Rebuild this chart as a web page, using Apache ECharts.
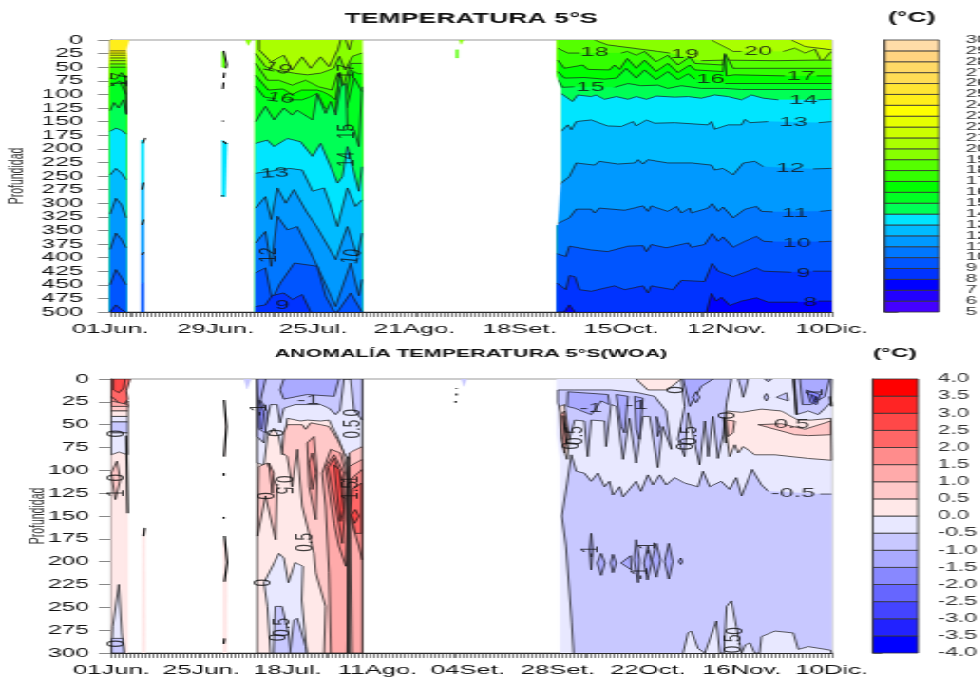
<!DOCTYPE html>
<html><head><meta charset="utf-8">
<style>html,body{margin:0;padding:0;background:#fff;overflow:hidden}
#stage{width:980px;height:681px;overflow:hidden;filter:blur(0.35px)}
#chart{height:681px;transform-origin:0 0}</style>
<script src="https://cdn.jsdelivr.net/npm/echarts@6/dist/echarts.min.js"></script></head>
<body><div id="stage"><div id="chart"></div></div>
<script>
// ---------- scales & labels ----------
const tempDateDays=[0,28,54,81,109,136,164,192];
const tempDateText=['01Jun.','29Jun.','25Jul.','21Ago.','18Set.','15Oct.','12Nov.','10Dic.'];
const anomDateDays=[0,24,47,71,95,119,143,168,192];
const anomDateText=['01Jun.','25Jun.','18Jul.','11Ago.','04Set.','28Set.','22Oct.','16Nov.','10Dic.'];
const tempLevels=[5,6,7,8,9,10,11,12,13,14,15,16,17,18,19,20,21,22,23,24,25,26,27,28,29];
const tempColors=['#4400FF','#2200FF','#0000FF','#0033FF','#0055FF','#0077FF','#0099FF','#00BBFF','#00E5FF','#00FF55','#00FF22','#00FF00','#33FF00','#55FF00','#88FF00','#AAFF00','#CCFF00','#E6FF00','#FFFF00','#FFEE1A','#FFE533','#FFDD55','#FFD966','#FFD480','#FFDCA8'];
const anomLevels=[-4,-3.5,-3,-2.5,-2,-1.5,-1,-0.5,0,0.5,1,1.5,2,2.5,3,3.5];
const anomColors=['#0000FF','#2222FF','#4444FF','#6666FF','#8888FF','#AAAAFF','#C8C8FF','#E8E8FF','#FFE8E8','#FFC8C8','#FFAAAA','#FF8C8C','#FF6666','#FF4848','#FF2424','#FF0000'];

// ---------- temperature isotherms: [day, depth] (null = break for a label) ----------
const isoA=[[24,[[0,20],[4.2,20]]],[23,[[0,24],[4.2,24]]],[22,[[0,28],[4.2,28]]],[21,[[0,33],[4.2,33]]],[20,[[0,38],[4.2,38]]],[19,[[0,44],[4.2,44]]],[18,[[0,50],[4.2,50]]],
[17,[[0,70],[1.5,72],[3,60],[4.2,70]]],[16,[[0,85],[1.2,80],[2.5,75],[4.2,100]]],[15,[[0,130],[1,115],[2.2,125],[3.5,110],[4.2,135]]],
[14,[[0,168],[1.5,162],[3,166],[4.2,173]]],[13,[[0,248],[1.5,236],[3,245],[4.2,257]]],[12,[[0,320],[1.5,291],[3,303],[4.2,327]]],[11,[[0,385],[1.5,355],[3,367],[4.2,382]]],[10,[[0,450],[1.5,422],[3,437],[4.2,450]]],[9,[[0,500],[1.5,487],[3,496],[4.2,500]]]];
const isoB20=[[38.7,0],null,[39.6,0],[39.6,18],[42.7,40],[46.2,28],[48.4,55],[51.1,31],[53.3,52],[56,31],[58.2,49],[60.6,18],[61.3,0],null,[62.7,0],[63.6,18],[64.4,0],null,[67,0]];
const isoB19=[[38.7,25],[41.3,49],[44,55],[48.9,61],[52.4,64],[56,61],[59.5,52],[61,30],[62.5,55],[64.5,30],[67,24]];
const isoB18=[[38.7,43],[41.8,74],[44.9,74],[48.4,83],[52,74],[55.5,86],[59,92],[60.6,61],[62,85],[64,43],[67,43]];
const isoB17=[[38.7,65],[42,92],[46,90],[48.4,100],[51,92],[55.1,92],[56.5,95],[58,100],[60,110],[61.2,60],[62.5,110],[64,55],[66,62],[67,62]];
const isoB16=[[38.7,85],[41,105],[44,108],null,[47,110],[51.1,110],[53,105],[55.1,98],[57,125],[60,132],[61,60],[62.8,125],[65,70],[67,95]];
const isoB15=[[38.7,150],[41.3,122],[43.6,147],[46.2,125],[48.4,138],[49.8,129],[53.8,147],[55.1,100],[57.3,135],[58.7,113],[60,138],[61.3,86],[62.7,80],[63.1,165],[64.9,165],[66.2,196],[67,86]];
const isoB14=[[38.7,190],[41.8,184],[43.6,196],[47.1,181],[50.7,187],[53.8,214],[56,190],[60.5,263],[61.8,251],[63.1,196],[64.5,233],[66.2,278],[67,233]];
const isoB13=[[38.7,245],[41.8,242],[47.6,236],[51.1,239],[53.8,278],[56.9,272],[60.5,343],[63.1,272],[65.3,306],[67,294]];
const isoB12=[[38.7,309],[41.3,288],[42.8,330],[44.5,272],[46.7,300],[48.9,275],[52.4,318],[55.1,345],[60,404],[63.1,343],[65.8,398],[67,355]];
const isoB11=[[38.7,373],[41.3,352],[42.8,416],[44.5,324],[47.1,349],[49.8,343],[55.1,416],[58.7,471],[60,490],[64,410],[66.2,470],[67,440]];
const isoB10=[[38.7,428],[41.3,419],[43,477],[45.3,447],[49,410],[55.1,416],[57.3,471],[59.5,499],[60.5,500],[64,465],[67,500]];
const isoB9=[[38.7,490],[41.3,487],[43,470],[46.2,465],[48.5,477],[51.1,468],[53.3,500],null,[67,500]];
const isoC21=[[119,0],null,[181.3,0],[184.9,12],[188.5,15],[192,18]];
const isoC20=[[119,0],null,[160,0],[165.8,21],[168,21],null,[179.1,21],[182.2,15],[184.9,24],[187.6,17],[189.3,40],[192,21]];
const isoC19=[[119,0],null,[128.9,0],[132.4,9],[145.8,21],[148.9,24],null,[157.3,38],[163.6,37],[176.9,38],[187.6,37],[192,37]];
const isoC18=[[119.1,15],[121.8,24],[124.9,24],null,[136,24],[137.6,21],[140,28],[142.2,21],[145.3,40],[148.4,28],[151.1,46],[154.2,31],[155.6,43],[163.1,46],[163.6,25],[165.8,52],[192,52]];
const isoC17=[[119.1,37],[120.9,52],[125.8,46],[127.1,54],[132.9,55],[134.2,46],[135.6,54],[137.6,34],[140,52],[142.2,37],[145.3,58],[148.4,43],[151.1,60],[154.2,46],[155.6,55],[163.1,58],[163.6,28],[164,66],[166.2,64],[179.6,66],null,[188,66],[192,66]];
const isoC16=[[119.1,58],[120.9,70],[126.2,69],[131.6,72],[134.7,70],[137.3,52],[140,70],[142.2,55],[145.3,73],[148.4,58],[151.1,73],[153.8,62],[155.6,72],null,[163.6,80],[192,80]];
const isoC15=[[119.1,73],[120.4,87],[123.5,86],null,[134.2,87],[137.8,80],[141.3,84],[145.8,83],[148.4,89],[152,84],[157.3,89],[163.6,89],[168,91],[192,91]];
const isoC14=[[120,98],[123,113],[124.4,101],[128,104],[129.3,101],[131.6,109],[134.7,104],[137.8,109],[140,104],[142.7,109],[145.4,103],[150.2,105],[153.8,104],[157.3,107],[160.9,101],[164.4,104],[168,110],[170.7,101],[173.8,107],[177.8,110],null,[188.3,110],[192,109]];
const isoC13=[[120,168],[121.8,156],[122.7,165],[124,150],[128,147],[132.4,158],[136,159],[139.1,150],[140,158],[142.7,147],[144.9,153],[150.2,152],[159.1,156],[160,150],[160.9,164],[164.4,156],[168,156],[168.9,146],[170.2,152],[175.1,150],null,[188.5,152],[192,150]];
const isoC12=[[119,269],[122.2,251],[124,226],[128.9,230],[130.2,223],[135.1,228],[139.6,226],[140.5,220],[141.8,228],[143.1,220],[148.4,226],[154.7,226],[160,230],[160.9,239],[163.1,236],[165.8,248],[168.5,226],[171.6,223],[173.8,233],null,[187.1,237],[192,236]];
const isoC11=[[118.9,338],[122.2,327],[124,311],[128,311],[128.9,318],[130.2,309],[136.9,313],[141.8,305],[143.1,315],[144,305],[148.4,315],[150.7,306],[152,318],[154.2,309],[154.7,318],[159.1,309],[160.2,301],[161.8,315],[163.1,307],[165.8,327],[168.9,311],[172,306],[173.3,315],[176.4,316],null,[188.9,315],[192,313]];
const isoC10=[[118.9,393],[121.3,398],[122.2,379],[128,386],[132.4,389],[137.8,379],[141.8,378],[142.7,389],[144,376],[148,382],[153.8,373],[154.7,381],[158.2,376],[160.2,356],[161.8,370],[163.1,362],[165.8,381],[168.9,370],[172,361],[173.8,370],[176.4,371],null,[188.5,371],[192,370]];
const isoC9=[[118.9,447],[121.3,459],[122.2,433],[123.6,435],[124.9,459],[128,462],[134.2,452],[136.9,459],[141.8,452],[143.1,465],[144,452],[149.8,459],[152,442],[158.2,444],[160.2,411],[161.8,425],[165.8,435],[172,419],[173.8,425],[181.3,427],null,[187.1,425],[192,425]];
const isoC8=[[118.9,500],[120.9,500],[122.2,487],[123.6,500],null,[158.7,500],[160,466],[161.3,480],[162.7,473],[164.9,488],[168,480],[172,474],[175.1,482],[183,482],null,[188.5,480],[192,480]];
const tempSlivers=[[13,[[8.2,184],[9,184],[9,263],[8.2,263]]],[12,[[8.2,263],[9,263],[9,337],[8.2,337]]],[11,[[8.2,337],[9,337],[9,392],[8.2,392]]],[10,[[8.2,392],[9,392],[9,447],[8.2,447]]],[9,[[8.2,447],[9,447],[9,500],[8.2,500]]],
[18,[[29.8,21],[30.3,25],[30.7,52],[29.8,50]]],[13,[[29.8,184],[31.1,190],[30.7,288],[29.8,288]]],[19,[[36,0],[37.5,0],[36.7,10]]],[19,[[92.9,0],[94,0],[93.3,8]]],[18,[[92,18],[92.6,18],[92.6,33],[92,33]]]];
const tempTicks=[[[30.2,20],[31,45],[30.8,52]],[[30.4,60],[30.2,70]],[[30.2,78],[30,90]],[[30,148],[30.1,150]],[[30,186],[31,191]],[[29.9,285],[30,288]],[[9.3,180],[8.6,190]],[[8.9,262],[8.4,275]],[[8.9,330],[8.4,340]],[[8.9,390],[8.4,395]],[[4,65],[4.2,100],[4.3,137]],[[3,78],[4.4,80]]];

// ---------- anomaly regions: [lower band level, polygon of day/depth] ----------
const anomSegA=[[0,[[0,0],[5,0],[4.4,17],[4.4,300],[0,300]],0],
[2,[[0,0],[5,0],[4,13],[4.4,22],[3,30],[0,20]]],[2.5,[[0.6,0],[3.7,0],[3.3,10],[2,15],[0.6,12]]],
[1.5,[[0,19],[3.2,30],[4.4,24],[4.4,30],[0,30]]],[1,[[0,24],[4.4,28],[4.4,31],[0,30]]],[0.5,[[0,30],[4.4,30],[4.4,35],[0,35]]],[0,[[0,35],[4.4,35],[4.4,41],[0,41]]],[-0.5,[[0,41],[4.4,41],[4.4,47],[0,47]]],[-1,[[0,47],[4.4,47],[4.4,59],[0,59]]],[-0.5,[[0,59],[4.4,59],[4.4,83],[2,80],[0,83]]],
[0.5,[[0,103],[1.5,90],[2.4,110],[1.1,132]]],[-0.5,[[0.4,271],[2,225],[2.8,278],[3.4,300],[0.1,300]]],[-1,[[0.1,284],[3.1,284],[3.4,300],[0.1,300]]]];
const anomSegB=[[0,[[38.9,0],[66.9,0],[66.9,300],[38.9,300]]],
[-0.5,[[38.9,0],[66.9,0],[66.9,74],[63.4,88],[62,81],[60.3,63],[58,45],[55.8,46],[52.2,45],[50.5,46],[46.9,43],[45.6,83],[44.7,63],[43.3,54],[41.6,63],[40.7,94],[38.9,92]]],
[-1,[[38.9,0],[66.9,0],[66.9,45],[64.7,34],[63.8,0],[62,0],[61,34],[59.8,39],[58,32],[55.8,28],[49,28],[46,32],[45,48],[44.2,28],[42.4,28],[41.1,54],[40.7,70],[38.9,63]]],
[-1.5,[[46,0],[45,12],[46,22],[52.2,17],[59.4,19],[60.7,0]]],[-1.5,[[38.9,0],[41.1,0],[39.8,23],[41.6,36],[41.1,59],[39.4,55]]],[-2,[[39.4,23],[40.7,37],[40.2,55],[39.4,53]]],
[0.5,[[46.9,50],[50.9,50],[51.8,55],[53.1,48],[55.8,50],[58,52],[60.3,66],[62,81],[62.9,103],[62.9,300],[56.7,300],[57.1,249],[54.5,212],[54,191],[52.2,161],[50.9,139],[49.6,77],[48.2,118],[46.9,85],[45.6,81],[46,59]]],
[0.5,[[63.4,81],[66.9,74],[66.9,300],[63.4,300]]],[0.5,[[39.3,96],[41.6,92],[44.2,118],[43.8,176],[41.1,128],[39,172]]],
[1,[[52.2,70],[54,63],[54.9,103],[54.5,154],[52.7,118]]],[1,[[56.2,103],[58.5,77],[61.1,81],[62.9,110],[63.4,176],[62.9,300],[58.5,300],[58,212],[57.1,139]]],[1,[[63.4,96],[66.9,88],[66.9,300],[64.2,300],[63.8,176]]],[1,[[42,92],[43.3,103],[42.9,125]]],
[1.5,[[52.7,92],[53.6,81],[54.5,103],[53.6,121]]],[1.5,[[57.1,96],[59.4,83],[62,103],[62.9,161],[62.5,205],[60.7,183],[59.4,158],[58,121]]],[1.5,[[63.8,110],[66.9,99],[66.9,198],[66,183],[64.2,158]]],
[2,[[57.8,97],[59.4,87],[61.6,110],[62.1,154],[61.6,180],[59.8,139]]],[2,[[64.2,121],[66.7,114],[66.7,169],[65.1,169],[63.8,147]]],
[2.5,[[59.4,94],[60.7,99],[61.9,143],[61.1,156],[60.3,128]]],[2.5,[[65.1,143],[66,150],[64.9,158],[64,149]]],
[-0.5,[[40.7,223],[44.7,191],[46,196],[47.2,223],[49,201],[51.1,205],[50.8,242],[52.1,300],[42.4,300],[41.6,249]]],[-1,[[43.7,249],[45.5,249],[47.2,278],[47.8,300],[43.3,300]]],[-1,[[48.7,264],[49.6,262],[51.8,293],[52,300],[47.6,300]]]];
const anomSegC=[[-0.5,[[118.7,0],[118.7,60],[119.7,90],[119.7,300],[192,300],[192,0]],0],
[-1,[[123.2,300],[122.7,267],[121.2,183],[120.1,150],[121.5,114],[122.6,83],[123.9,101],[126.1,103],[127.9,112],[129.7,103],[131.5,118],[132.8,112],[133.7,127],[135.5,118],[136.4,129],[139.9,112],[141.2,123],[143,105],[144.4,116],[146.2,105],[147.9,116],[150.2,108],[152.8,114],[156.4,118],[157.7,101],[159.5,118],[162.6,112],[164.8,121],[166.6,108],[168,128],[170.8,99],[173.3,116],[175.1,123],null,[188.9,126],[192,126],null,[192,300]],1],
[-0.5,[[152.4,300],[153.7,278],[154.6,276],[156.4,295],[158.2,300],[161.3,265],[162.2,300],[163.3,300],[164,249],[165.3,243],[166.6,271],[168,300],[169,291],[170.2,289],[171.5,300],[172.8,300],[173.3,282],[176.9,276],[181.8,278],[183.1,296],[185.8,293],[191.8,297],[192,300]],1],
[-1.5,[[130.6,191],[131.6,201.5],[130.6,215],[129.5,201.5]]],[-1.5,[[133.7,192],[134.6,201.5],[133.7,212],[133.1,201.5]]],[-1.5,[[138.4,193.5],[138.6,209],[135.9,201.5]]],[-1.5,[[139.9,176],[140.8,198],[140.4,223],[139.3,198]]],[-1.5,[[143,183],[144,201.5],[142.9,220],[142,201.5]]],[-1.5,[[145.3,180],[146.4,198],[145.3,217],[144.1,198]]],[-1.5,[[148.6,180],[149.7,200],[148.6,219],[147.5,200]]],[-1.5,[[151.8,196],[152.2,200],[151.8,203],[151.3,200]]],[-1.5,[[127.9,169],[128.3,187],[127.9,209],[127.5,187]]],
[-1,[[119,12],[123.5,12],[133.2,12],[140.4,15],[144.8,19],[147.9,35],[149.3,77],[147,52],[145.7,97],[143.5,41],[141.7,41],[139.9,92],[138.1,43],[136.4,88],[134.6,30],[133.2,28],[131.9,74],[131.5,46],[127.9,45],[127,85],[126.1,46],[123.5,45],[122.1,66],[119,26]]],
[-1.5,[[121.7,14],[132.4,17],[132.8,28],[130.6,24],[127.9,39],[123.5,32],[121.5,30]]],[-1.5,[[134.6,17],[137.7,19],[136.8,59],[135.9,52]]],[-1.5,[[139.5,19],[141.7,21],[140.8,66],[139.9,55]]],[-1.5,[[145.3,41],[146.4,55],[145.7,63]]],
[-1,[[151.9,0],[152.8,30],[151,66],[152.8,85],[153.7,37],[156.8,94],[158.2,46],[159.1,85],[160.4,41],[161.7,87],[163.1,61],[164,26],[165.3,0]]],[-1.5,[[152.4,0],[154.2,30],[157.3,8],[160.4,0]]],[-1.5,[[155.9,14],[156.8,20],[155.9,26],[155,20]]],
[-1,[[167.1,0],[168,12],[168.4,20],[169,12],[169.7,0]]],[-1,[[174.2,0],[175.1,3],[176,0]]],[-1,[[174.6,16],[175.2,20],[174.6,24],[174,20]]],[-1,[[177.3,20],[180,15],[180.4,24]]],
[0,[[139.9,0],[143,12],[148.2,12],[151.9,0]]],
[0,[[164,35],[168,36.5],[173.3,33],[178.6,35],[183.1,45],[186.6,45],[191.8,43],[192,89],[185.8,87],[176.9,83],[171.5,83],[170.2,79],[168.4,74],[167.1,81],[166.2,72],[164.8,85],[164,63]]],
[0.5,[[172.4,50],[178.6,49],[184.9,55],[191.8,46],[191.8,61],[185.8,62],[182.2,61],[176.9,55]]],[0.5,[[164,45],[166.2,46],[165.7,59],[164.4,63]]],
[-1,[[181.8,0],[182.6,39],[185.8,35],[188.4,39],[191.8,26],[192,0]]],[-1.5,[[183.5,0],[184.2,28],[186.6,28],[190.2,19],[191.5,0]]],[-2,[[185.3,12],[188.9,17],[188,28],[186.5,26]]],[-2.5,[[186.6,17],[188.4,21],[187.5,26]]],
[0,[[119.5,30],[120.8,28],[122.1,66],[121.5,88],[119.9,66]]],[1,[[119.9,39],[120.8,35],[121.7,63],[120.8,81],[120.1,59]]]];
const anomSlivers=[[0,[[8.3,165],[9,165],[9.1,300],[8.2,300]]],[0,[[29.8,175],[30.9,190],[30.8,300],[29.8,300]]],[0,[[30.2,40],[30.7,45],[30.3,85]]],[-1,[[35.4,0],[37.2,0],[36.2,11]]],[-1,[[93.3,0],[94.8,0],[94,8]]]];
const anomTicks=[[[30.1,23],[30.7,52],[30.1,85]],[[30,103],[30,106]],[[30,151],[30,153]],[[30.2,172],[30.9,201],[30.2,222]],[[30.2,284],[30,290]],[[8.9,163],[8.6,172]],[[92,10],[92,11]],[[92,16],[92,18]],[[91.8,24],[91.8,26]],[[4,62],[4.2,100],[4.4,147]],[[182,0],[182.7,39]],[[191.6,19],[192,30]],[[120.5,40],[121.3,70]],[[163.3,42],[163.8,70]],[[63.1,85],[63.1,300]]];

// ---------- contour labels: [day, depth, text, rotation] ----------
const tempLabels=[[128.9,23,'18',0],[152.9,26,'19',0],[172.4,21,'20',0],[183.8,66,'17',0],[159.8,73,'16',0],[127.8,87,'15',0],[184.5,111,'14',0],[181.8,152,'13',0],[180.9,236,'12',0],[182.2,318,'11',0],[182.7,373,'10',0],[184.5,428,'9',0],[186.2,483,'8',0],
[44.5,52,'19',-22],[45.3,107,'16',-12],[63.1,58,'17',90],[63.1,168,'15',90],[63.1,219,'14',90],[43.7,245,'13',5],[42.2,395,'12',90],[64.4,398,'10',80],[45.8,487,'9',0],[2.7,73,'17',90]];
const anomLabels=[[52.6,23,'-1',0],[45.6,116,'0.5',-90],[51.8,179,'0.5',90],[44,59,'0',90],[41.5,128,'0',90],[40.7,223,'0',90],[44.7,283,'0',90],[45.6,272,'0.5',90],[39.7,34,'-1',90],[64.2,37,'0',90],[64.2,55,'0.5',90],[63.8,110,'1',90],[63.8,122,'1.5',90],[1.5,60,'0',90],[1.5,108,'0',90],[1.5,125,'1',90],[1.5,290,'0',90],
[127.9,32,'-1',0],[139.9,29,'-1',0],[150.6,12,'0',90],[181.4,50,'0.5',0],[181.7,125,'-0.5',0],[122.5,73,'0',90],[123.5,62,'0.5',90],[153.3,74,'0',90],[154.2,62,'0.5',90],[164.4,40,'0',90],[166.2,276,'0',90],[165.7,290,'0.5',90],[127.9,189,'-1',90],[143,185,'-1',90],[140.8,213,'-1',90],[187.5,17,'-1',90]];

// ---------- drawing ----------
const SX=1.9;
document.getElementById('chart').style.width=(980/SX)+'px';
document.getElementById('chart').style.transform='scaleX('+SX+')';
const tc=l=>tempColors[tempLevels.indexOf(l)];
const ac=l=>anomColors[anomLevels.indexOf(l)];
const INK='#1a1a1a';
function isoItems(base,list,bottom){
  const out=[{pts:base.pts,fill:base.fill}];
  list.forEach(([T,line])=>{
    const clean=line.filter(Boolean);
    out.push({pts:clean.concat([[clean[clean.length-1][0],bottom],[clean[0][0],bottom]]),fill:tc(T-1)});
    out.push({line:line});
  });
  return out;
}
const tempItems=[
 ...isoItems({pts:[[0,0],[5,0],[4.2,20],[4.2,500],[0,500]],fill:tc(24)},isoA,500),
 ...isoItems({pts:[[38.7,0],[67,0],[67,500],[38.7,500]],fill:tc(20)},[[20,isoB20],[19,isoB19],[18,isoB18],[17,isoB17],[16,isoB16],[15,isoB15],[14,isoB14],[13,isoB13],[12,isoB12],[11,isoB11],[10,isoB10],[9,isoB9]],500),
 ...isoItems({pts:[[119,0],[192,0],[192,500],[119,500]],fill:tc(21)},[[21,isoC21],[20,isoC20],[19,isoC19],[18,isoC18],[17,isoC17],[16,isoC16],[15,isoC15],[14,isoC14],[13,isoC13],[12,isoC12],[11,isoC11],[10,isoC10],[9,isoC9],[8,isoC8]],500),
 {pts:[[118.4,62],[119.9,90],[119.9,257],[119,340],[118.4,340]],fill:'#fff'},
 ...tempSlivers.map(([l,p])=>({pts:p,fill:tc(l)})),
 ...tempTicks.map(p=>({line:p,width:1.1}))
];
function regionItems(list){
  const out=[];
  list.forEach(([l,p,mode])=>{
    out.push({pts:p.filter(Boolean),fill:ac(l)});
    if(mode===0)return;
    out.push({line:mode===1?p:p.concat([p[0]])});
  });
  return out;
}
const anomItems=[...regionItems(anomSegA),...regionItems(anomSegB),...regionItems(anomSegC),
 ...anomSlivers.map(([l,p])=>({pts:p,fill:ac(l)})),...anomTicks.map(p=>({line:p,width:1.2}))];

function polySeries(items,g){
  return {type:'custom',xAxisIndex:g,yAxisIndex:g,silent:true,clip:true,animation:false,
    data:items.map(()=>[0,0]),encode:{x:0,y:1},
    renderItem(params,api){
      const it=items[params.dataIndex],ch=[];
      if(it.pts)ch.push({type:'polygon',shape:{points:it.pts.map(p=>api.coord(p))},style:{fill:it.fill,stroke:it.fill,lineWidth:0.3}});
      if(it.line){
        let seg=[];const flush=()=>{if(seg.length>1)ch.push({type:'polyline',shape:{points:seg},style:{fill:null,stroke:INK,lineWidth:it.width||0.7}});seg=[];};
        it.line.forEach(p=>{if(p)seg.push(api.coord(p));else flush();});flush();
      }
      return {type:'group',children:ch};
    }};
}
function labelSeries(list,g,size){
  return {type:'scatter',xAxisIndex:g,yAxisIndex:g,symbolSize:0,silent:true,animation:false,z:10,
    data:list.map(([d,z,t,r])=>({value:[d,z],label:{show:true,position:'inside',rotate:r,formatter:t,fontSize:size,fontFamily:'Liberation Sans',color:'#111'}}))};
}
function barSeries(levels,colors,step,g){
  const items=levels.map((l,i)=>({l,c:colors[i]}));
  return {type:'custom',xAxisIndex:g,yAxisIndex:g,silent:true,animation:false,
    data:items.map(it=>[0,it.l]),encode:{x:0,y:1},
    renderItem(params,api){
      const it=items[params.dataIndex];
      const pts=[[0,it.l],[1,it.l],[1,it.l+step],[0,it.l+step]].map(p=>api.coord(p));
      return {type:'polygon',shape:{points:pts},style:{fill:it.c,stroke:'#333',lineWidth:0.8}};
    }};
}
const X=v=>v/SX;
const font='Liberation Sans';
function dayAxis(g,days,text){
  const allDays=[];for(let d=0;d<=192;d++)allDays.push(d);
  return {type:'value',gridIndex:g,min:0,max:192,interval:1,splitLine:{show:false},
    axisLine:{show:true,onZero:false,lineStyle:{color:'#222',width:1}},
    axisTick:{show:true,length:5,customValues:allDays,lineStyle:{color:'#333',width:0.6}},
    axisLabel:{customValues:days,hideOverlap:false,margin:10,fontSize:13.5,fontFamily:font,color:'#111',formatter:v=>text[days.indexOf(v)]||''}};
}
function depthAxis(g,max,nameGap,margin){
  return {type:'value',gridIndex:g,inverse:true,min:0,max:max,interval:25,splitLine:{show:false},
    name:'Profundidad',nameLocation:'middle',nameGap:nameGap,nameRotate:90,nameMoveOverlap:false,nameTextStyle:{fontSize:10.5,fontFamily:font,color:'#333'},
    axisLine:{show:true,lineStyle:{color:'#444',width:0.8}},
    axisTick:{show:true,length:6.5,lineStyle:{color:'#888',width:1}},
    axisLabel:{margin:margin,fontSize:13,fontFamily:font,color:'#111',showMinLabel:true,showMaxLabel:true}};
}
function barX(g){return {type:'value',gridIndex:g,min:0,max:1,show:false};}
function barY(g,min,max,step,fmt,tick,margin,size){
  return {type:'value',gridIndex:g,position:'right',min:min,max:max,interval:step,splitLine:{show:false},
    axisLine:{show:true,lineStyle:{color:'#333',width:1}},
    axisTick:{show:true,length:tick,lineStyle:{color:'#777',width:1}},
    axisLabel:{margin:margin,fontSize:size,fontFamily:font,color:'#333',formatter:fmt,hideOverlap:false,align:'left',showMinLabel:true,showMaxLabel:true}};
}
const titleStyle=s=>({fontSize:s,fontWeight:'bold',fontFamily:font,color:'#111'});
const chart=echarts.init(document.getElementById('chart'),null,{renderer:'canvas',width:980/SX,height:681});
const g0={outerBoundsMode:'none'};
chart.setOption({
  animation:false,backgroundColor:'#fff',
  title:[
   {text:'TEMPERATURA 5°S',left:X(470),top:12,textAlign:'center',textStyle:titleStyle(14),padding:0},
   {text:'(°C)',left:X(910),top:11,textAlign:'center',textStyle:titleStyle(14),padding:0},
   {text:'ANOMALÍA TEMPERATURA 5°S(WOA)',left:X(470),top:348,textAlign:'center',textStyle:titleStyle(11.3),padding:0},
   {text:'(°C)',left:X(893),top:347,textAlign:'center',textStyle:titleStyle(13),padding:0}],
  grid:[
   {...g0,left:X(110),width:X(720),top:40,height:272,show:true,borderColor:'#999',borderWidth:1,backgroundColor:'#fff'},
   {...g0,left:X(883),width:X(54),top:40,height:272},
   {...g0,left:X(111),width:X(719),top:379,height:274,show:true,borderColor:'#999',borderWidth:1,backgroundColor:'#fff'},
   {...g0,left:X(871),width:X(45),top:379,height:274}],
  xAxis:[dayAxis(0,tempDateDays,tempDateText),barX(1),dayAxis(2,anomDateDays,anomDateText),barX(3)],
  yAxis:[depthAxis(0,500,43,14.5),
    barY(1,5,30,1,v=>String(v),7,14.2,10.5),
    depthAxis(2,300,33,11.6),
    barY(3,-4,4,0.5,v=>v.toFixed(1),5,10.5,12)],
  series:[polySeries(tempItems,0),labelSeries(tempLabels,0,13.5),barSeries(tempLevels,tempColors,1,1),
          polySeries(anomItems,2),labelSeries(anomLabels,2,13.5),barSeries(anomLevels,anomColors,0.5,3)]
});
</script></body></html>
